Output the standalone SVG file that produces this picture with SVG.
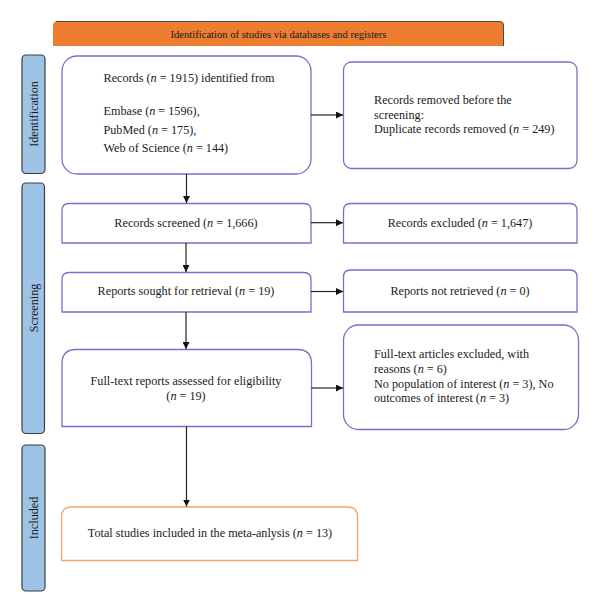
<svg xmlns="http://www.w3.org/2000/svg" width="600" height="613" viewBox="0 0 600 613">
<defs>
<marker id="ah" viewBox="0 0 10 10" refX="10" refY="5" markerWidth="7" markerHeight="7" markerUnits="userSpaceOnUse" orient="auto">
<path d="M0,0 L10,5 L0,10 Z" fill="#111"/>
</marker>
<style>
.t{font-family:"Liberation Serif","Times New Roman",serif;font-size:12.2px;fill:#1a1a1a}
.c{text-anchor:middle}
.i{font-style:italic}
.box{fill:#fff;stroke:#7d6fc6;stroke-width:1.3}
.obox{fill:#fff;stroke:#f4a46e;stroke-width:1.3}
.lab{fill:#9dc3e6;stroke:#3d3d3d;stroke-width:1.2}
.conn{stroke:#222;stroke-width:1.2;fill:none;marker-end:url(#ah)}
</style>
</defs>
<rect width="600" height="613" fill="#fff"/>

<g id="header">
<path d="M53,46 V26 Q53,21 58,21 H499 Q504,21 504,26 V46 Z" fill="#ed7d31"/>
<path d="M56,21.5 H499 Q503.5,21.5 503.5,26 V46" fill="none" stroke="#4a4a4a" stroke-width="1"/>
<text class="t c" x="278.5" y="37.5" style="font-size:10.6px">Identification of studies via databases and registers</text>
</g>

<g id="label-identification">
<rect class="lab" x="22" y="55" width="23" height="118.5" rx="4"/>
<text class="t c" transform="translate(37.8,114) rotate(-90)">Identification</text>
</g>
<g id="label-screening">
<rect class="lab" x="22" y="183" width="22.5" height="250.5" rx="4"/>
<text class="t c" transform="translate(37.5,308) rotate(-90)">Screening</text>
</g>
<g id="label-included">
<rect class="lab" x="22" y="445" width="23" height="146" rx="4"/>
<text class="t c" transform="translate(37.8,518) rotate(-90)">Included</text>
</g>

<g id="records-identified">
<rect class="box" x="62" y="56" width="249" height="118" rx="15"/>
<text class="t" x="103.5" y="82">Records (<tspan class="i">n</tspan> = 1915) identified from</text>
<text class="t" x="103.5" y="115">Embase (<tspan class="i">n</tspan> = 1596),</text>
<text class="t" x="103.5" y="133.5">PubMed (<tspan class="i">n</tspan> = 175),</text>
<text class="t" x="103.5" y="152">Web of Science (<tspan class="i">n</tspan> = 144)</text>
</g>

<g id="records-removed">
<rect class="box" x="343.5" y="62" width="233.5" height="106.5" rx="8"/>
<text class="t" x="374" y="103.5">Records removed before the</text>
<text class="t" x="374" y="118.5">screening:</text>
<text class="t" x="374" y="133">Duplicate records removed (<tspan class="i">n</tspan> = 249)</text>
</g>

<g id="records-screened">
<path class="box" d="M62,243 V210.5 Q62,203.5 69,203.5 H304 Q311,203.5 311,210.5 V243 Z"/>
<text class="t c" x="186" y="227">Records screened (<tspan class="i">n</tspan> = 1,666)</text>
</g>

<g id="records-excluded">
<path class="box" d="M343.5,243 V210.5 Q343.5,203.5 350.5,203.5 H570 Q577,203.5 577,210.5 V243 Z"/>
<text class="t c" x="460" y="227">Records excluded (<tspan class="i">n</tspan> = 1,647)</text>
</g>

<g id="reports-sought">
<path class="box" d="M62,312 V279.5 Q62,272.5 69,272.5 H304 Q311,272.5 311,279.5 V312 Z"/>
<text class="t c" x="186" y="294.5">Reports sought for retrieval (<tspan class="i">n</tspan> = 19)</text>
</g>

<g id="reports-not-retrieved">
<path class="box" d="M343.5,312 V277 Q343.5,270 350.5,270 H570 Q577,270 577,277 V312 Z"/>
<text class="t c" x="460" y="294.5">Reports not retrieved (<tspan class="i">n</tspan> = 0)</text>
</g>

<g id="full-text-assessed">
<path class="box" d="M62,426.5 V363.5 Q62,349.5 76,349.5 H297.5 Q311.5,349.5 311.5,363.5 V426.5 Z"/>
<text class="t c" x="186" y="385">Full-text reports assessed for eligibility</text>
<text class="t c" x="186" y="399.5">(<tspan class="i">n</tspan> = 19)</text>
</g>

<g id="full-text-excluded">
<rect class="box" x="343.5" y="325" width="235" height="104.5" rx="15"/>
<text class="t" x="374" y="358">Full-text articles excluded, with</text>
<text class="t" x="374" y="373">reasons (<tspan class="i">n</tspan> = 6)</text>
<text class="t" x="374" y="387.5">No population of interest (<tspan class="i">n</tspan> = 3), No</text>
<text class="t" x="374" y="402">outcomes of interest (<tspan class="i">n</tspan> = 3)</text>
</g>

<g id="included-total">
<path class="obox" d="M61.5,560.5 V517 Q61.5,507 71.5,507 H347.5 Q357.5,507 357.5,517 V560.5 Z"/>
<text class="t c" x="210" y="536.5">Total studies included in the meta-anlysis (<tspan class="i">n</tspan> = 13)</text>
</g>

<g id="connectors">
<line class="conn" x1="311" y1="115" x2="343" y2="115"/>
<line class="conn" x1="186.5" y1="174" x2="186.5" y2="203"/>
<line class="conn" x1="311" y1="222.7" x2="343" y2="222.7"/>
<line class="conn" x1="186" y1="243" x2="186" y2="272"/>
<line class="conn" x1="311" y1="291.5" x2="343" y2="291.5"/>
<line class="conn" x1="186" y1="312" x2="186" y2="349"/>
<line class="conn" x1="311.5" y1="388" x2="343" y2="388"/>
<line class="conn" x1="186.5" y1="426.5" x2="186.5" y2="506.5"/>
</g>
</svg>
